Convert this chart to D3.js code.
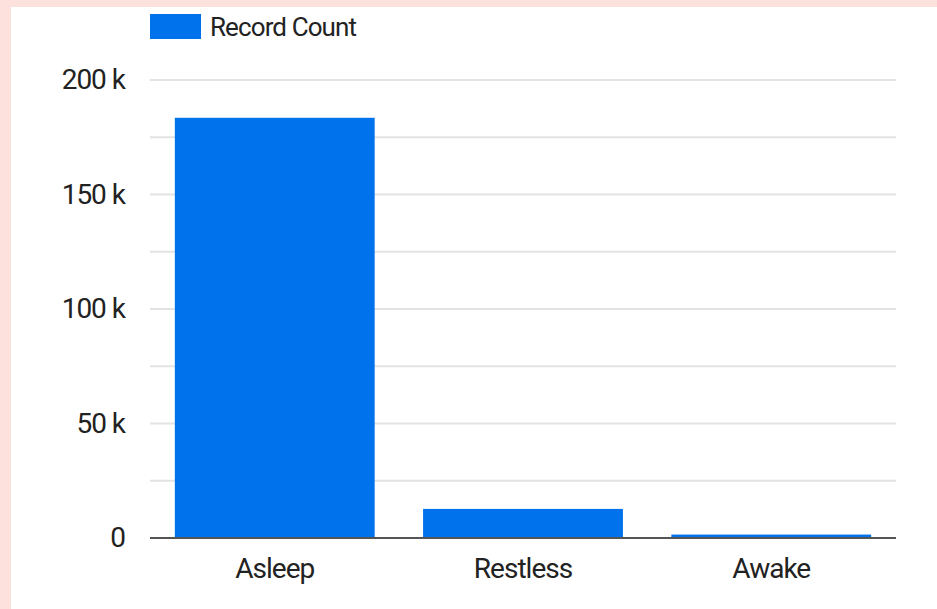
<!DOCTYPE html>
<html>
<head>
<meta charset="utf-8">
<script src="https://cdn.jsdelivr.net/npm/d3@7"></script>
<style>
    html, body { margin: 0; padding: 0; background: #fde1dc; }
    svg { display: block; }
    text { font-family: Roboto, "Noto Sans", sans-serif; fill: #222; }
</style>
</head>
<body>
<svg class="chart"></svg>
<script>
'use strict';

var CHART_WIDTH = 937;
var CHART_HEIGHT = 609;
var PLOT = { left: 150, right: 896, top: 80, bottom: 538 };
var BAR_COLOR = '#0072ec';

// data
var categories = ['Asleep', 'Restless', 'Awake'];
var recordCounts = [183500, 12700, 1500];
var seriesName = 'Record Count';
var yTicks = [0, 25000, 50000, 75000, 100000, 125000, 150000, 175000, 200000];
var yTickLabels = ['0', '', '50 k', '', '100 k', '', '150 k', '', '200 k'];

var chart = d3.select('.chart')
    .attr('width', CHART_WIDTH)
    .attr('height', CHART_HEIGHT);

// white card over the pink page
chart.append('rect')
    .attr('x', 11).attr('y', 7)
    .attr('width', CHART_WIDTH - 11).attr('height', CHART_HEIGHT - 7)
    .attr('fill', '#fff');

var xScale = d3.scaleBand()
    .domain(categories)
    .range([PLOT.left, PLOT.right])
    .paddingInner(0.195)
    .paddingOuter(0.1);

var yScale = d3.scaleLinear()
    .domain([0, 200000])
    .range([PLOT.bottom, PLOT.top]);

// gridlines
chart.append('g')
    .selectAll('line')
    .data(yTicks.slice(1))
    .enter()
    .append('line')
    .attr('x1', PLOT.left)
    .attr('x2', PLOT.right)
    .attr('y1', function (d) { return yScale(d); })
    .attr('y2', function (d) { return yScale(d); })
    .attr('stroke', '#e3e3e3')
    .attr('stroke-width', 2);

// y tick labels
var yAxis = d3.axisLeft(yScale)
    .tickValues(yTicks)
    .tickSize(0)
    .tickPadding(25)
    .tickFormat(function (d, i) { return yTickLabels[i]; });

chart.append('g')
    .attr('class', 'y axis')
    .attr('transform', 'translate(' + PLOT.left + ',0)')
    .call(yAxis)
    .call(function (g) { g.select('.domain').remove(); })
    .selectAll('text')
    .style('font-size', '28px')
    .style('letter-spacing', '-1px')
    .attr('fill', '#222');

// bars
chart.append('g')
    .selectAll('rect')
    .data(categories)
    .enter()
    .append('rect')
    .attr('x', function (d) { return xScale(d); })
    .attr('width', xScale.bandwidth())
    .attr('y', function (d, i) { return yScale(recordCounts[i]); })
    .attr('height', function (d, i) { return PLOT.bottom - yScale(recordCounts[i]); })
    .attr('fill', BAR_COLOR);

// x axis
var xAxis = d3.axisBottom(xScale)
    .tickSize(0)
    .tickPadding(20);

chart.append('g')
    .attr('class', 'x axis')
    .attr('transform', 'translate(0,' + PLOT.bottom + ')')
    .call(xAxis)
    .call(function (g) {
        g.select('.domain')
            .attr('d', 'M' + PLOT.left + ',0H' + PLOT.right)
            .attr('stroke', '#555')
            .attr('stroke-width', 2);
    })
    .selectAll('text')
    .style('font-size', '28px')
    .style('letter-spacing', '-1px')
    .attr('fill', '#222');

// legend
var legend = chart.append('g')
    .attr('transform', 'translate(150,14)');

legend.append('rect')
    .attr('width', 51)
    .attr('height', 25)
    .attr('fill', BAR_COLOR);

legend.append('text')
    .attr('x', 60)
    .attr('y', 13)
    .attr('dy', '0.35em')
    .style('font-size', '26px')
    .style('letter-spacing', '-0.9px')
    .text(seriesName);
</script>
</body>
</html>
